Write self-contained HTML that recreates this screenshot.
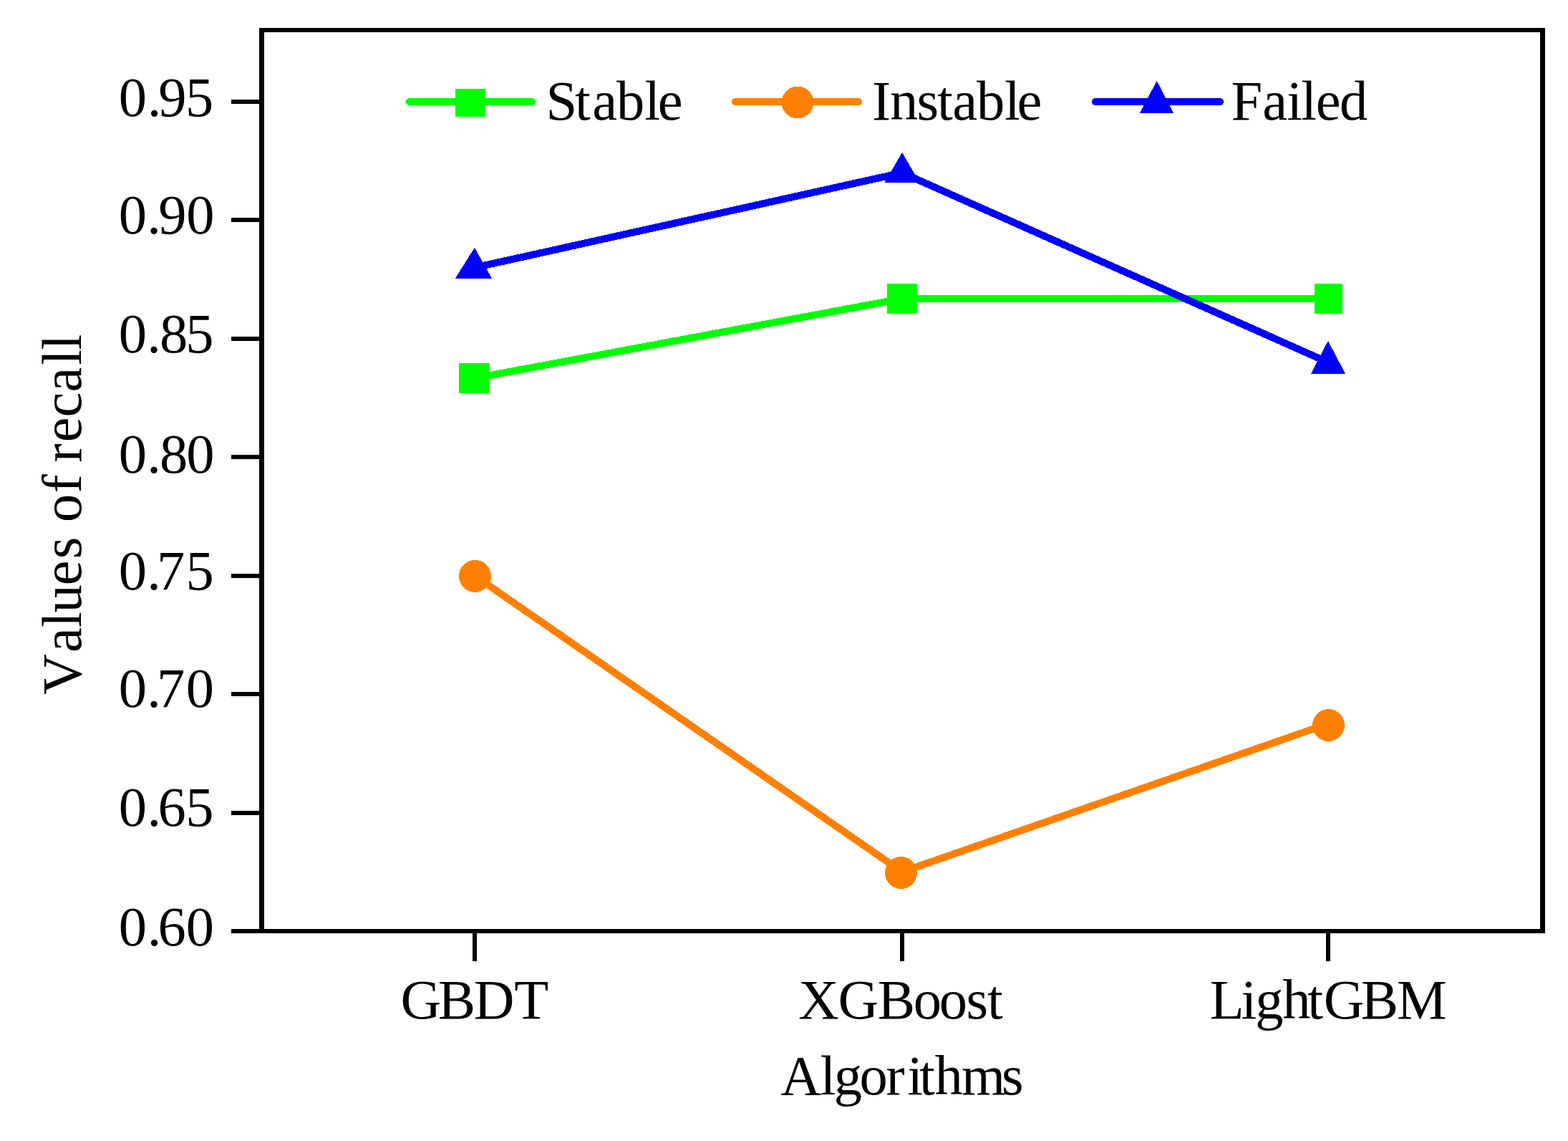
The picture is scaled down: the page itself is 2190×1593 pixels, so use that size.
<!DOCTYPE html>
<html>
<head>
<meta charset="utf-8">
<style>
html,body{margin:0;padding:0;background:#fff;}
body{width:2190px;height:1593px;overflow:hidden;}
svg{display:block;}
text{font-family:"Liberation Serif","Times New Roman",serif;font-size:78.5px;fill:#000;}
</style>
</head>
<body>
<svg width="2190" height="1593" viewBox="0 0 2190 1593" shape-rendering="crispEdges">
<rect x="0" y="0" width="2190" height="1593" fill="#fff"/>

<!-- y ticks -->
<g stroke="#000" stroke-width="6" shape-rendering="crispEdges">
<line x1="323" y1="142" x2="365" y2="142"/>
<line x1="323" y1="307.4" x2="365" y2="307.4"/>
<line x1="323" y1="472.9" x2="365" y2="472.9"/>
<line x1="323" y1="638.3" x2="365" y2="638.3"/>
<line x1="323" y1="803.7" x2="365" y2="803.7"/>
<line x1="323" y1="969.1" x2="365" y2="969.1"/>
<line x1="323" y1="1134.6" x2="365" y2="1134.6"/>
<line x1="323" y1="1300" x2="365" y2="1300"/>
<!-- x ticks -->
<line x1="663" y1="1300" x2="663" y2="1342"/>
<line x1="1260" y1="1300" x2="1260" y2="1342"/>
<line x1="1855" y1="1300" x2="1855" y2="1342"/>
</g>

<!-- series lines -->
<g fill="none" stroke-width="10" stroke-linejoin="round" stroke-linecap="round">
<polyline stroke="#00ff00" points="663,528 1260,417 1855,417"/>
<polyline stroke="#ff8000" points="663,803.7 1260,1217.3 1855,1010.5"/>
<polyline stroke="#0000ff" points="663,373.6 1260,241.2 1855,505.9"/>
</g>

<!-- markers -->
<g fill="#00ff00">
<rect x="641" y="507" width="43" height="42"/>
<rect x="1239" y="396" width="42" height="42"/>
<rect x="1836" y="396" width="39" height="42"/>
</g>
<g fill="#ff8000">
<circle cx="663.5" cy="804.4" r="22.5"/>
<circle cx="1258.5" cy="1218.5" r="22.5"/>
<circle cx="1855.5" cy="1012.5" r="22.5"/>
</g>
<g fill="#0000ff">
<polygon points="662.9,345.8 687,388.7 635.8,388.7"/>
<polygon points="1260,212.8 1284.5,254.9 1235.5,254.9"/>
<polygon points="1854.9,475.9 1879.1,521.8 1830.9,521.8"/>
</g>

<!-- frame -->
<rect x="365.5" y="42" width="1789" height="1258" fill="none" stroke="#000" stroke-width="6.5" shape-rendering="crispEdges"/>

<!-- legend -->
<g stroke-width="10" stroke-linecap="round">
<line x1="572" y1="142" x2="743" y2="142" stroke="#00ff00"/>
<line x1="1027" y1="142" x2="1199" y2="142" stroke="#ff8000"/>
<line x1="1530" y1="142" x2="1704" y2="142" stroke="#0000ff"/>
</g>
<rect x="636" y="124" width="42" height="39" fill="#00ff00"/>
<circle cx="1114" cy="143" r="22.3" fill="#ff8000"/>
<polygon points="1615.7,113 1639.1,157.8 1591.8,157.8" fill="#0000ff"/>

<text x="762.5 803.0 827.3 860.9 900.2 918.8" y="167">Stable</text>
<text x="1218.0 1243.0 1280.4 1309.1 1330.3 1363.9 1403.0 1420.6" y="167">Instable</text>
<text x="1719.5 1763.2 1797.2 1817.3 1837.7 1871.1" y="167">Failed</text>

<!-- y tick labels -->
<text x="165.7 205.8 221.3 259.1" y="162.2">0.95</text>
<text x="165.7 205.3 221.3 260.2" y="326.3">0.90</text>
<text x="165.7 205.3 223.0 259.3" y="492.2">0.85</text>
<text x="165.7 205.3 223.0 260.2" y="659.6">0.80</text>
<text x="165.7 205.3 219.0 259.4" y="823.3">0.75</text>
<text x="165.7 205.3 219.0 259.8" y="987.2">0.70</text>
<text x="165.8 205.6 220.4 259.2" y="1153.2">0.65</text>
<text x="165.7 205.8 220.4 259.8" y="1320.2">0.60</text>

<!-- x tick labels -->
<text x="559.6 611.8 661.7 718.3" y="1422">GBDT</text>
<text x="1115.1 1170.5 1225.8 1275.8 1311.8 1349.5 1379.1" y="1422">XGBoost</text>
<text x="1689.7 1733.4 1753.3 1791.3 1826.3 1848.7 1900.8 1951.0" y="1422">LightGBM</text>
<text x="1090.3 1145.4 1164.7 1200.6 1237.6 1267.2 1284.0 1305.6 1343.1 1399.0" y="1528">Algorithms</text>

<!-- y axis title -->
<text transform="translate(113,1000) rotate(-90)" x="30.2 89.1 123.9 144.5 182.8 219.7 250.2 271.0 311.4 337.5 354.6 382.7 417.6 452.5 490.2 511.4" y="0">Values of recall</text>
</svg>
</body>
</html>
